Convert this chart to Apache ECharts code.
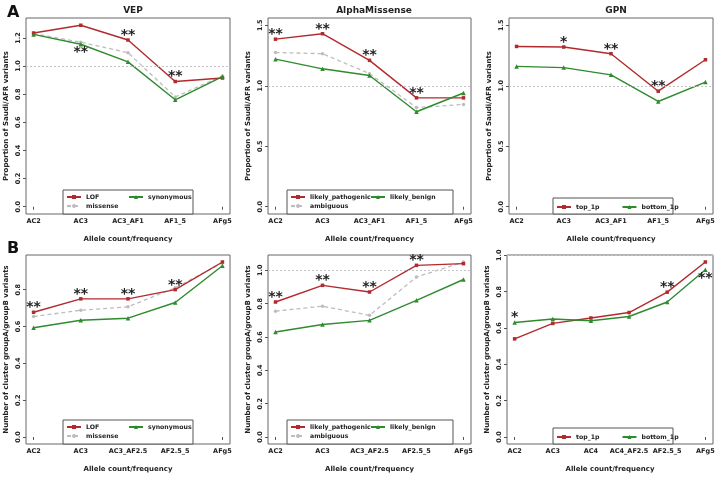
<!DOCTYPE html>
<html><head><meta charset="utf-8">
<script src="https://cdn.jsdelivr.net/npm/echarts@6/dist/echarts.min.js"></script>
<style>html,body{margin:0;padding:0;background:#fff}#c{width:720px;height:480px}</style>
</head><body><div id="c"></div>
<script>
// ---------- categories ----------
const catsA  = ['AC2','AC3','AC3_AF1','AF1_5','AFg5'];
const catsB  = ['AC2','AC3','AC3_AF2.5','AF2.5_5','AFg5'];
const catsB3 = ['AC2','AC3','AC4','AC4_AF2.5','AF2.5_5','AFg5'];

// ---------- row A : Saudi/AFR proportion ----------
const vepLOF      = [1.235, 1.29, 1.185, 0.89, 0.915];
const vepMissense = [1.23, 1.17, 1.095, 0.78, 0.93];
const vepSyn      = [1.225, 1.155, 1.03, 0.76, 0.925];
const vepLOFStars = ['', '', '**', '**', ''];
const vepSynStars = ['', '**', '', '', ''];

const amPath   = [1.385, 1.43, 1.21, 0.90, 0.90];
const amAmbig  = [1.275, 1.265, 1.10, 0.82, 0.845];
const amBenign = [1.22, 1.14, 1.085, 0.785, 0.94];
const amPathStars = ['**', '**', '**', '**', ''];

const gpnTop    = [1.325, 1.32, 1.265, 0.955, 1.215];
const gpnBottom = [1.16, 1.15, 1.09, 0.87, 1.03];
const gpnTopStars = ['', '*', '**', '**', ''];

// ---------- row B : cluster groupA/groupB ----------
const bLOF      = [0.677, 0.75, 0.75, 0.80, 0.95];
const bMissense = [0.654, 0.688, 0.707, 0.81, 0.945];
const bSyn      = [0.593, 0.634, 0.645, 0.73, 0.93];
const bLOFStars = ['**', '**', '**', '**', ''];

const bPath   = [0.81, 0.91, 0.87, 1.03, 1.04];
const bAmbig  = [0.755, 0.785, 0.73, 0.96, 1.05];
const bBenign = [0.63, 0.675, 0.70, 0.82, 0.945];
const bPathStars = ['**', '**', '**', '**', ''];

const bTop    = [0.54, 0.625, 0.655, 0.685, 0.797, 0.963];
const bBottom = [0.63, 0.649, 0.64, 0.663, 0.743, 0.92];
const bTopStars    = ['', '', '', '', '**', ''];
const bBottomStars = ['*', '', '', '', '', '**'];
const bBottomStarPos = ['top', '', '', '', '', 'bottom'];

// ---------- styles ----------
const RED = '#b22a2e', GRAY = '#bdbdbd', GREEN = '#2e8b2e';
const FONT = 'DejaVu Sans';
const TXT = '#222';

function pts(vals, stars, pos) {
  return vals.map((v, i) => {
    const s = stars ? stars[i] : '';
    const p = Array.isArray(pos) ? pos[i] : (pos || 'top');
    return {
      value: [i + 1, v],
      label: s ? { show: true, formatter: s, position: p, distance: 0, offset: p === 'bottom' ? [0, -1] : [0, 4] } : { show: false }
    };
  });
}
const starLabel = { fontSize: 14, fontWeight: 'bold', color: '#222', fontFamily: FONT };

function line(name, vals, color, symbol, gi, stars, pos, dashed, refLine) {
  const s = {
    name, type: 'line', xAxisIndex: gi, yAxisIndex: gi,
    data: pts(vals, stars, pos),
    symbol, symbolSize: symbol === 'triangle' ? 4.5 : 3.5,
    showSymbol: true,
    itemStyle: { color },
    lineStyle: { color, width: dashed ? 1.3 : 1.4, type: dashed ? [4, 3] : 'solid' },
    label: starLabel,
    z: dashed ? 2 : 3,
    animation: false
  };
  if (refLine) {
    s.markLine = {
      silent: true, symbol: 'none', label: { show: false },
      lineStyle: { color: '#c4c4c4', type: [2, 2], width: 1 },
      data: [{ yAxis: 1 }], animation: false
    };
  }
  return s;
}

// grids (plot boxes)
const grids = [
  { left: 26,  top: 18,  width: 204, height: 196 },
  { left: 268, top: 18,  width: 203, height: 196 },
  { left: 509, top: 18,  width: 204, height: 196 },
  { left: 26,  top: 255, width: 204, height: 189 },
  { left: 268, top: 255, width: 203, height: 189 },
  { left: 507, top: 255, width: 206, height: 189 }
].map(g => Object.assign(g, { show: true, borderColor: '#666', borderWidth: 1, backgroundColor: 'transparent' }));

const axisText = { fontSize: 6.5, fontWeight: 'bold', color: TXT, fontFamily: FONT };
const nameText = { fontSize: 7, fontWeight: 'bold', color: TXT, fontFamily: FONT };

function xAx(gi, cats) {
  const n = cats.length, idx = cats.map((c, i) => i + 1);
  const pad = (n - 1) * 0.04;
  return {
    gridIndex: gi, type: 'value', min: 1 - pad, max: n + pad,
    axisLine: { show: false }, splitLine: { show: false },
    axisTick: { show: true, customValues: idx, length: 3, lineStyle: { color: '#555' } },
    axisLabel: Object.assign({ customValues: idx, formatter: v => cats[Math.round(v) - 1], margin: 4 }, axisText),
    name: 'Allele count/frequency', nameLocation: 'middle', nameGap: 22, nameTextStyle: nameText
  };
}
function yAx(gi, min, max, ticks, title) {
  return {
    gridIndex: gi, type: 'value', min, max,
    axisLine: { show: false }, splitLine: { show: false },
    axisTick: { show: true, customValues: ticks, length: 3, lineStyle: { color: '#555' } },
    axisLabel: Object.assign({ customValues: ticks, formatter: v => v.toFixed(1), rotate: 90, margin: 4 }, axisText),
    name: title, nameLocation: 'middle', nameRotate: 90, nameGap: 16, nameTextStyle: nameText
  };
}
const ticksA1 = [0, 0.2, 0.4, 0.6, 0.8, 1.0, 1.2];
const ticksA2 = [0, 0.5, 1.0, 1.5];
const ticksB1 = [0, 0.2, 0.4, 0.6, 0.8];
const ticksB2 = [0, 0.2, 0.4, 0.6, 0.8, 1.0];
const yTitleA = 'Proportion of Saudi/AFR variants';
const yTitleB = 'Number of cluster groupA/groupB variants';

const legText = { fontSize: 6.2, fontWeight: 'bold', color: TXT, fontFamily: FONT, lineHeight: 8 };
function leg(names, left, top, orient) {
  return {
    data: names, left, top, orient: orient || 'vertical',
    itemWidth: 14, itemHeight: 5, itemGap: orient === 'horizontal' ? 22 : 1,
    padding: 0, textStyle: legText, selectedMode: false
  };
}
function box(x, y, w, h) {
  return { type: 'rect', shape: { x, y, width: w, height: h }, style: { fill: '#fff', stroke: '#555', lineWidth: 1 }, z: 50, silent: true };
}
const panelTitle = { fontSize: 9, fontWeight: 'bold', color: TXT, fontFamily: FONT };
const bigLetter = { fontSize: 16, fontWeight: 'bold', color: '#111', fontFamily: FONT };

const option = {
  backgroundColor: '#fff',
  animation: false,
  textStyle: { fontFamily: FONT },
  title: [
    { text: 'A', left: 2, top: 0, textStyle: bigLetter },
    { text: 'B', left: 2, top: 236, textStyle: bigLetter },
    { text: 'VEP', left: 128, top: 1, textAlign: 'center', textStyle: panelTitle },
    { text: 'AlphaMissense', left: 369, top: 1, textAlign: 'center', textStyle: panelTitle },
    { text: 'GPN', left: 611, top: 1, textAlign: 'center', textStyle: panelTitle }
  ],
  grid: grids,
  xAxis: [xAx(0, catsA), xAx(1, catsA), xAx(2, catsA), xAx(3, catsB), xAx(4, catsB), xAx(5, catsB3)],
  yAxis: [
    yAx(0, -0.0516, 1.3416, ticksA1, yTitleA),
    yAx(1, -0.06, 1.56, ticksA2, yTitleA),
    yAx(2, -0.06, 1.56, ticksA2, yTitleA),
    yAx(3, -0.038, 0.988, ticksB1, yTitleB),
    yAx(4, -0.042, 1.092, ticksB2, yTitleB),
    yAx(5, -0.0385, 1.0015, ticksB2, yTitleB)
  ],
  graphic: [
    box(63, 190, 130, 24), box(287, 190, 166, 24), box(553, 198, 120, 16),
    box(63, 420, 130, 24), box(287, 420, 166, 24), box(553, 428, 120, 16)
  ],
  legend: [
    leg(['LOF', 'missense'], 66, 193), leg(['synonymous'], 128, 193),
    leg(['likely_pathogenic', 'ambiguous'], 290, 193), leg(['likely_benign'], 370, 193),
    leg(['top_1p', 'bottom_1p'], 556, 203, 'horizontal'),
    leg(['LOF', 'missense'], 66, 423), leg(['synonymous'], 128, 423),
    leg(['likely_pathogenic', 'ambiguous'], 290, 423), leg(['likely_benign'], 370, 423),
    leg(['top_1p', 'bottom_1p'], 556, 433, 'horizontal')
  ].map(l => Object.assign(l, { z: 60 })),
  series: [
    line('LOF', vepLOF, RED, 'rect', 0, vepLOFStars, 'top', false, true),
    line('missense', vepMissense, GRAY, 'circle', 0, null, null, true),
    line('synonymous', vepSyn, GREEN, 'triangle', 0, vepSynStars, 'bottom'),

    line('likely_pathogenic', amPath, RED, 'rect', 1, amPathStars, 'top', false, true),
    line('ambiguous', amAmbig, GRAY, 'circle', 1, null, null, true),
    line('likely_benign', amBenign, GREEN, 'triangle', 1),

    line('top_1p', gpnTop, RED, 'rect', 2, gpnTopStars, 'top', false, true),
    line('bottom_1p', gpnBottom, GREEN, 'triangle', 2),

    line('LOF', bLOF, RED, 'rect', 3, bLOFStars, 'top'),
    line('missense', bMissense, GRAY, 'circle', 3, null, null, true),
    line('synonymous', bSyn, GREEN, 'triangle', 3),

    line('likely_pathogenic', bPath, RED, 'rect', 4, bPathStars, 'top', false, true),
    line('ambiguous', bAmbig, GRAY, 'circle', 4, null, null, true),
    line('likely_benign', bBenign, GREEN, 'triangle', 4),

    line('top_1p', bTop, RED, 'rect', 5, bTopStars, 'top', false, true),
    line('bottom_1p', bBottom, GREEN, 'triangle', 5, bBottomStars, bBottomStarPos)
  ]
};

const chart = echarts.init(document.getElementById('c'), null, { renderer: 'canvas' });
chart.setOption(option);
</script></body></html>
